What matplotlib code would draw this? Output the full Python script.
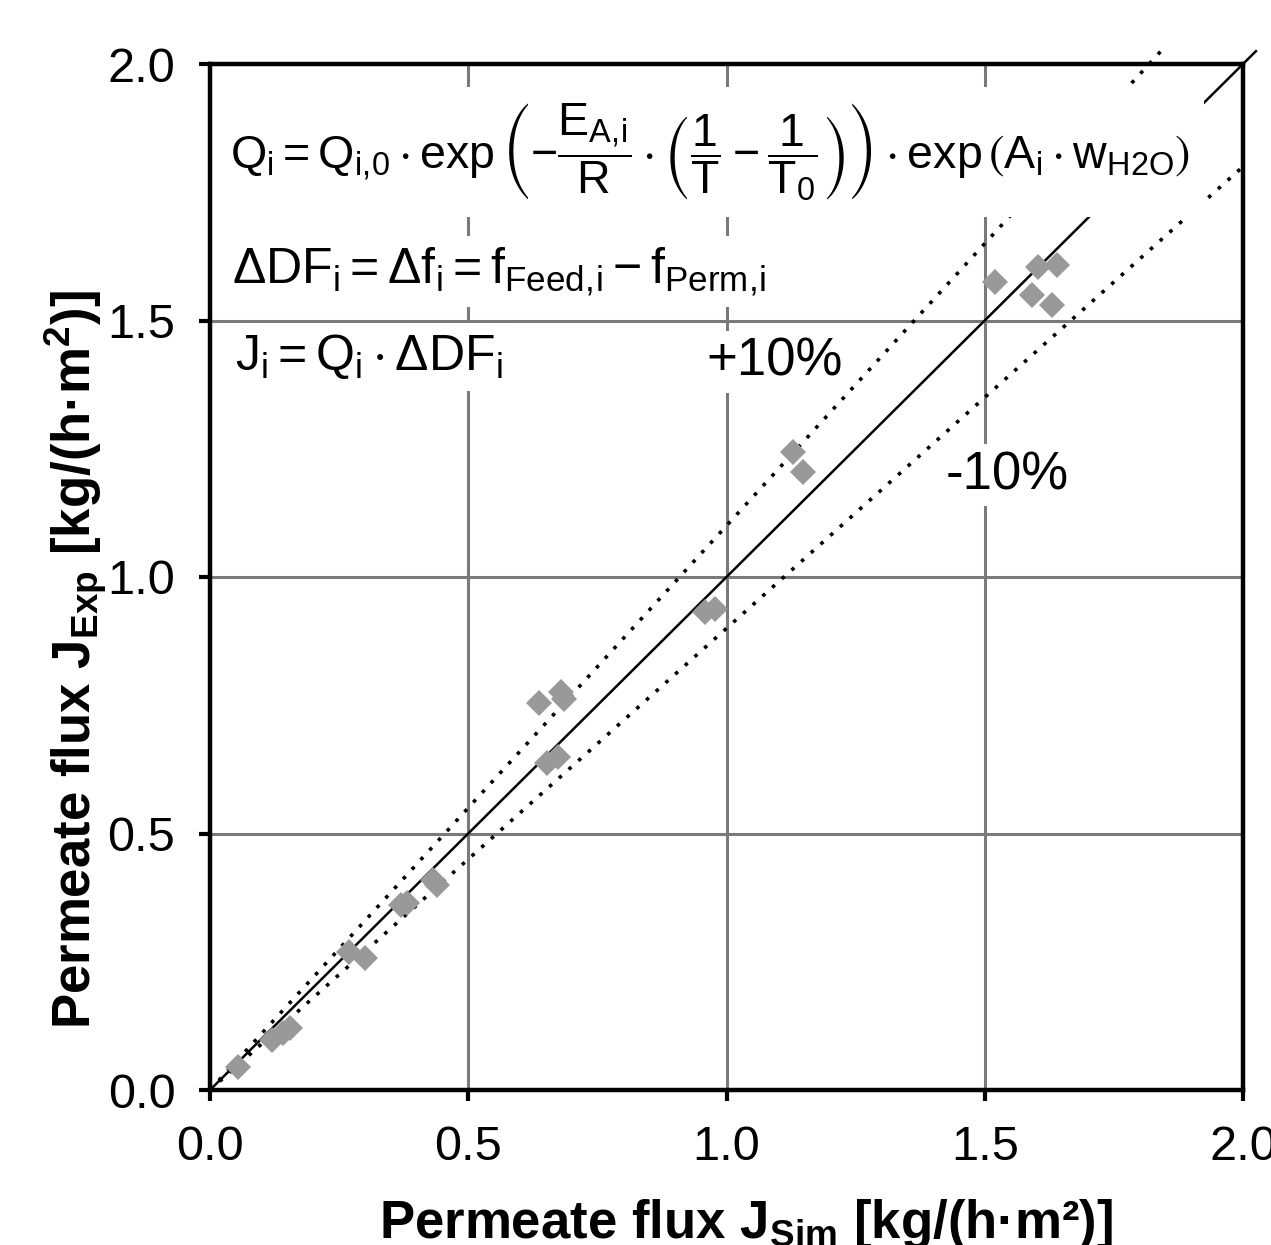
import matplotlib.pyplot as plt
import numpy as np

plt.rcParams['font.family'] = ['Liberation Sans', 'DejaVu Sans']
plt.rcParams['mathtext.fontset'] = 'custom'
plt.rcParams['mathtext.rm'] = 'Liberation Sans'
plt.rcParams['mathtext.it'] = 'Liberation Sans'
plt.rcParams['mathtext.bf'] = 'Liberation Sans:bold'
plt.rcParams['mathtext.sf'] = 'Liberation Sans'
plt.rcParams['mathtext.fallback'] = 'stixsans'
plt.rcParams['mathtext.default'] = 'regular'

# simulated vs. experimental permeate flux [kg/(h m2)]
j_sim = [0.054, 0.120, 0.141, 0.155, 0.269, 0.300, 0.370, 0.382, 0.432, 0.440,
         0.637, 0.680, 0.686, 0.652, 0.674, 0.958, 0.978, 1.129, 1.148,
         1.520, 1.603, 1.640, 1.591, 1.630]
j_exp = [0.045, 0.097, 0.111, 0.121, 0.269, 0.257, 0.360, 0.365, 0.410, 0.400,
         0.754, 0.775, 0.762, 0.637, 0.649, 0.932, 0.938, 1.244, 1.205,
         1.575, 1.604, 1.608, 1.550, 1.530]

# parity line and +/-10 % deviation lines (factor, end of line on x)
dev_factor = [1.0, 1.1, 0.9]
dev_x_end = [2.025, 1.84, 2.0]
dev_style = ['-', (0, (1.0, 2.6)), (0, (1.0, 2.6))]

ticks = [0.0, 0.5, 1.0, 1.5, 2.0]

fig = plt.figure(figsize=(12.71, 12.45), dpi=100)
ax = fig.add_axes([210 / 1271, 1 - 1090 / 1245, 1033 / 1271, 1026 / 1245])


def ax_pos(px, py):
    # pixel position in the picture -> axes fraction
    return (px - 210) / 1033, (1090 - py) / 1026


ax.set_xlim(0, 2)
ax.set_ylim(0, 2)
ax.set_xticks(ticks)
ax.set_yticks(ticks)
ax.set_xticklabels(['%.1f' % t for t in ticks])
ax.set_yticklabels(['%.1f' % t for t in ticks])
ax.tick_params(direction='out', length=8, width=3, labelsize=35, pad=17)
for s in ax.spines.values():
    s.set_linewidth(3.2)
ax.grid(True, color='#7a7a7a', linewidth=2.2)
ax.set_axisbelow(True)

for f, xe, ls in zip(dev_factor, dev_x_end, dev_style):
    xs = np.array([0, xe])
    ax.plot(xs, f * xs, color='black', linestyle=ls,
            linewidth=1.8 if ls == '-' else 2.6, clip_on=False, zorder=2)

ax.plot(j_sim, j_exp, linestyle='none', marker='D', markersize=13.5,
        color='#999999', markeredgewidth=0, zorder=3)

eq1 = (r'$Q_i = Q_{i,\!0}\cdot\exp\left(-\dfrac{E_{A,\!i}}{R}\cdot'
       r'\left(\dfrac{1}{T}-\dfrac{1}{T_0}\right)\right)\cdot'
       r'\exp\left(A_i\cdot w_{H2O}\right)$')
eq2 = r'$\Delta DF_i = \Delta f_i = f_{Feed,\!i} - f_{Perm,\!i}$'
eq3 = r'$J_i = Q_i\cdot\Delta DF_i$'

ax.text(*ax_pos(230, 168), eq1, transform=ax.transAxes, fontsize=33.5,
        ha='left', va='baseline', zorder=5,
        bbox=dict(facecolor='white', edgecolor='none', pad=10))
ax.text(*ax_pos(232, 283), eq2, transform=ax.transAxes, fontsize=36,
        ha='left', va='baseline', zorder=5,
        bbox=dict(facecolor='white', edgecolor='none', pad=7))
ax.text(*ax_pos(235, 370), eq3, transform=ax.transAxes, fontsize=36,
        ha='left', va='baseline', zorder=5,
        bbox=dict(facecolor='white', edgecolor='none', pad=7))

ax.text(*ax_pos(775, 362), '+10%', transform=ax.transAxes,
        fontsize=38, ha='center', va='center',
        bbox=dict(facecolor='white', edgecolor='none', pad=4), zorder=5)
ax.text(*ax_pos(1007, 475), '-10%', transform=ax.transAxes,
        fontsize=38, ha='center', va='center',
        bbox=dict(facecolor='white', edgecolor='none', pad=4), zorder=5)

fig.text(746 / 1271, 1 - 1238 / 1245, 'Permeate flux J$_{Sim}$ [kg/(h·m²)]',
         fontsize=38, fontweight='bold', ha='center', va='baseline')
fig.text(91 / 1271, 1 - 660 / 1245, 'Permeate flux J$_{Exp}$ [kg/(h·m$^2$)]',
         fontsize=38, fontweight='bold', ha='center', va='baseline',
         rotation=90, rotation_mode='anchor')

fig.savefig('out.png', dpi=100)
